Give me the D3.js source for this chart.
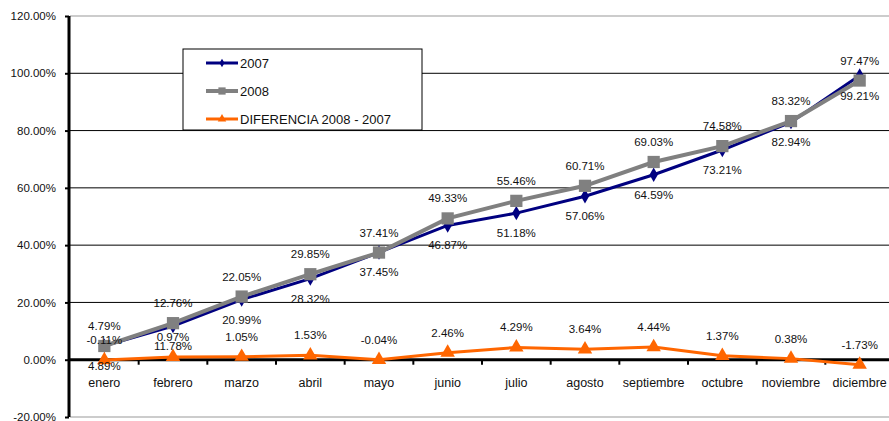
<!DOCTYPE html>
<meta charset="utf-8">
<style>
  body { margin: 0; background: #fff; }
  text { font-family: "Liberation Sans", Arial, sans-serif; fill: #111; }
  .grid line { stroke: #000; stroke-width: 1; }
</style>
<body>
<script src="https://d3js.org/d3.v7.min.js"></script>
<script>

var months = ["enero", "febrero", "marzo", "abril", "mayo", "junio", "julio",
              "agosto", "septiembre", "octubre", "noviembre", "diciembre"];
var values2007 = [4.89, 11.78, 20.99, 28.32, 37.45, 46.87, 51.18, 57.06, 64.59, 73.21, 82.94, 99.21];
var values2008 = [4.79, 12.76, 22.05, 29.85, 37.41, 49.33, 55.46, 60.71, 69.03, 74.58, 83.32, 97.47];
var valuesDiff = [-0.11, 0.97, 1.05, 1.53, -0.04, 2.46, 4.29, 3.64, 4.44, 1.37, 0.38, -1.73];
var yTicks = [-20, 0, 20, 40, 60, 80, 100, 120];

var width = 889, height = 421;

var svg = d3.select("body").append("svg")
    .attr("width", width).attr("height", height);

var x = d3.scaleBand().domain(months).range([70, 894]);
var y = d3.scaleLinear().domain([-20, 120]).range([417, 16]);
var cx = function(m) { return x(m) + x.bandwidth() / 2; };

var fmt = function(v) { return v.toFixed(2) + "%"; };

// gridlines
svg.append("g").attr("class", "grid")
  .selectAll("line")
  .data(yTicks)
  .enter().append("line")
    .attr("x1", 70).attr("x2", width)
    .attr("y1", function(d) { return y(d); })
    .attr("y2", function(d) { return y(d); })
    .style("stroke", function(d) { return (d === 120 || d === -20) ? "#999" : "#000"; });

// y axis
var yAxis = d3.axisLeft(y).tickValues(yTicks).tickSize(4)
    .tickFormat(function(d) { return d.toFixed(2) + "%"; });
var gy = svg.append("g").attr("transform", "translate(69,0)").call(yAxis);
gy.select(".domain").remove();
gy.selectAll(".tick line").attr("stroke", "#000").attr("stroke-width", 2);
gy.selectAll(".tick text").attr("x", -13).style("font-size", "11.5px")
  .style("font-family", "'Liberation Sans', Arial, sans-serif").attr("fill", "#111");
svg.append("line").attr("x1", 69).attr("x2", 69)
   .attr("y1", y(120)).attr("y2", y(-20))
   .attr("stroke", "#000").attr("stroke-width", 3);

// zero axis with category ticks
svg.append("line").attr("x1", 69).attr("x2", width)
   .attr("y1", y(0)).attr("y2", y(0))
   .attr("stroke", "#000").attr("stroke-width", 3);
svg.append("g").selectAll("line")
  .data(months.slice(1))
  .enter().append("line")
    .attr("x1", function(d) { return x(d); })
    .attr("x2", function(d) { return x(d); })
    .attr("y1", y(0)).attr("y2", y(0) + 5)
    .attr("stroke", "#000").attr("stroke-width", 2);
svg.append("g").selectAll("text")
  .data(months)
  .enter().append("text")
    .attr("x", function(d) { return cx(d); })
    .attr("y", y(0) + 27)
    .attr("text-anchor", "middle")
    .style("font-size", "12.5px")
    .text(function(d) { return d; });

var series = [
  { name: "2007", values: values2007, color: "#000080", width: 3, symbol: d3.symbolDiamond, size: 60, dy: 24 },
  { name: "2008", values: values2008, color: "#808080", width: 4, symbol: d3.symbolSquare, size: 150, dy: -16 },
  { name: "DIFERENCIA 2008 - 2007", values: valuesDiff, color: "#ff6600", width: 3, symbol: d3.symbolTriangle, size: 90, dy: -16 }
];

var line = d3.line()
    .x(function(d, i) { return cx(months[i]); })
    .y(function(d) { return y(d); });

series.forEach(function(s) {
  var g = svg.append("g");
  g.append("path")
    .attr("d", line(s.values))
    .attr("fill", "none")
    .attr("stroke", s.color)
    .attr("stroke-width", s.width);
  g.selectAll("path.mark")
    .data(s.values)
    .enter().append("path")
      .attr("class", "mark")
      .attr("d", d3.symbol().type(s.symbol).size(s.size))
      .attr("fill", s.color)
      .attr("transform", function(d, i) { return "translate(" + cx(months[i]) + "," + y(d) + ")"; });
});

// data labels on top
series.forEach(function(s) {
  svg.append("g").selectAll("text")
    .data(s.values)
    .enter().append("text")
      .attr("x", function(d, i) { return cx(months[i]); })
      .attr("y", function(d) { return y(d) + s.dy; })
      .attr("text-anchor", "middle")
      .style("font-size", "11.5px")
      .text(fmt);
});

// legend
var legend = svg.append("g").attr("transform", "translate(183,49)");
legend.append("rect")
  .attr("width", 239).attr("height", 81)
  .attr("fill", "#fff").attr("stroke", "#000").attr("stroke-width", 1);
series.forEach(function(s, i) {
  var ly = 14 + i * 28;
  legend.append("line")
    .attr("x1", 23).attr("x2", 55).attr("y1", ly).attr("y2", ly)
    .attr("stroke", s.color).attr("stroke-width", s.width);
  legend.append("path")
    .attr("d", d3.symbol().type(s.symbol).size(s.size * 0.35))
    .attr("fill", s.color)
    .attr("transform", "translate(39," + ly + ")");
  legend.append("text")
    .attr("x", 57).attr("y", ly + 5)
    .style("font-size", "13px")
    .text(s.name);
});

</script>
</body>
